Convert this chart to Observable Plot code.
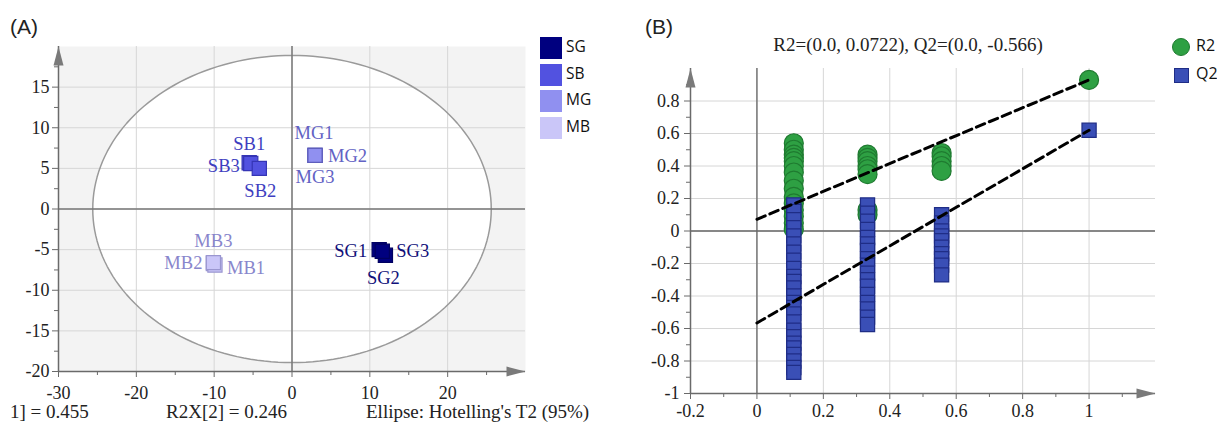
<!DOCTYPE html>
<html><head><meta charset="utf-8">
<script src="https://cdn.jsdelivr.net/npm/d3@7"></script>
<script src="https://cdn.jsdelivr.net/npm/@observablehq/plot@0.6"></script>
<style>
body{margin:0;background:#fff;}
#wrap{position:relative;width:1217px;height:426px;overflow:hidden;font-family:"Liberation Serif","Times New Roman",serif;color:#222;}
.abs{position:absolute;white-space:nowrap;line-height:1;}
svg{overflow:visible;}
</style></head><body><div id="wrap"></div>
<script>
// ---------- Panel A data (PCA scores) ----------
const samples = ["SG1","SG2","SG3","SB1","SB3","SB2","MG1","MG2","MG3","MB2","MB1","MB3"];
const sampleGroup = ["SG","SG","SG","SB","SB","SB","MG","MG","MG","MB","MB","MB"];
const t1 = [11.2, 12.0, 11.6, -5.5, -5.3, -4.2, 2.96, 2.96, 2.96, -10.1, -9.9, -10.1];
const t2 = [-5.0, -5.7, -5.2, 5.7, 5.6, 5.0, 6.6, 6.6, 6.6, -6.7, -6.9, -6.6];
const groupNames = ["SG","SB","MG","MB"];
const groupFill = ["#00007f","#5252e0","#9090f0","#cac6f8"];
const groupStroke = ["#000060","#3535b5","#5e5ebc","#9a96d0"];
const groupLabel = ["#10107a","#3e3ec0","#6262c4","#8886cc"];
const xTicksA = [-30,-20,-10,0,10,20];
const xMinorA = [-25,-15,-5,5,15,25];
const yTicksA = [-20,-15,-10,-5,0,5,10,15];
const yMinorA = [-17.5,-12.5,-7.5,-2.5,2.5,7.5,12.5,17.5];
const xDomA = [-30, 30], yDomA = [-20, 20];
const ellipseRadii = [25.6, 18.9]; // Hotelling T2 (95%)
const footA = ["1] = 0.455", "R2X[2] = 0.246", "Ellipse: Hotelling's T2 (95%)"];

// ---------- Panel B data (permutation test) ----------
const permCorr = [0.111, 0.333, 0.556];
const r2Perm1 = [0.54,0.50,0.47,0.45,0.43,0.40,0.36,0.31,0.26,0.21,0.17,0.13,0.09,0.05,0.01];
const r2Perm2 = [0.47,0.45,0.43,0.40,0.38,0.35,0.13,0.10];
const r2Perm3 = [0.48,0.46,0.43,0.40,0.37];
const q2Perm1 = [0.16,0.12,0.07,0.02,-0.03,-0.08,-0.13,-0.18,-0.23,-0.28,-0.31,-0.35,-0.40,-0.44,-0.47,-0.51,-0.56,-0.61,-0.65,-0.69,-0.72,-0.76,-0.80,-0.84,-0.87];
const q2Perm2 = [0.16,0.11,0.06,0.01,-0.04,-0.08,-0.12,-0.17,-0.21,-0.26,-0.30,-0.34,-0.39,-0.44,-0.48,-0.53,-0.575];
const q2Perm3 = [0.10,0.05,0.0,-0.03,-0.06,-0.10,-0.14,-0.17,-0.21,-0.27];
const origCorr = 1;
const r2Orig = 0.93, q2Orig = 0.62;
const r2Intercept = 0.0722, q2Intercept = -0.566;
const xTicksB = [-0.2,0,0.2,0.4,0.6,0.8,1];
const xMinorB = [-0.1,0.1,0.3,0.5,0.7,0.9,1.1];
const yTicksB = [-1,-0.8,-0.6,-0.4,-0.2,0,0.2,0.4,0.6,0.8];
const yMinorB = [-0.9,-0.7,-0.5,-0.3,-0.1,0.1,0.3,0.5,0.7,0.9];
const xDomB = [-0.2, 1.2], yDomB = [-1, 1];
const titleB = "R2=(0.0, 0.0722), Q2=(0.0, -0.566)";
const legendB = ["R2","Q2"];

// ---------- layout (label offsets in px) ----------
const labelLayout = {
  SG1:{a:"end",dx:-12,dy:1.5}, SG2:{a:"middle",dx:-2,dy:23}, SG3:{a:"start",dx:14,dy:0},
  SB1:{a:"middle",dx:0,dy:-19}, SB2:{a:"middle",dx:1,dy:22.5}, SB3:{a:"end",dx:-11,dy:2.5},
  MG1:{a:"middle",dx:-1,dy:-22}, MG2:{a:"start",dx:13,dy:0.5}, MG3:{a:"middle",dx:0,dy:21.5},
  MB1:{a:"start",dx:12,dy:3}, MB2:{a:"end",dx:-11,dy:0}, MB3:{a:"middle",dx:0,dy:-21.5}
};

const wrap = document.getElementById("wrap");
function addDiv(html, left, top, style){
  const d = document.createElement("div");
  d.className = "abs";
  d.innerHTML = html;
  d.style.left = left + "px"; d.style.top = top + "px";
  Object.assign(d.style, style || {});
  wrap.appendChild(d);
  return d;
}
const fmt = d => String(d);
const arrowUp = {draw(ctx){ ctx.moveTo(0,0); ctx.lineTo(5,19); ctx.lineTo(-5,19); ctx.closePath(); }};
const arrowRight = {draw(ctx){ ctx.moveTo(0,0); ctx.lineTo(-19,-5); ctx.lineTo(-19,5); ctx.closePath(); }};
const axisGray = "#6a6a6a", gridGray = "#d6d6d6";

// ---------- Panel A ----------
const tableA = samples.map((s,i)=>({sample:s, group:sampleGroup[i], t1:t1[i], t2:t2[i]}));
const gi = g => groupNames.indexOf(g);
const ellipsePts = d3.range(0, 361, 2).map(deg => {
  const t = deg*Math.PI/180;
  return {x: ellipseRadii[0]*Math.cos(t), y: ellipseRadii[1]*Math.sin(t)};
});
const plotA = Plot.plot({
  width: 610, height: 426,
  marginLeft: 58, marginRight: 85, marginTop: 46, marginBottom: 55,
  x: {domain: xDomA}, y: {domain: yDomA},
  style: {fontFamily: "Liberation Serif, Times New Roman, serif", fontSize: "18px", background: "transparent", color: "#222"},
  marks: [
    Plot.frame({fill: "#f3f3f3", stroke: "none"}),
    Plot.line(ellipsePts, {x: "x", y: "y", fill: "white", stroke: "none"}),
    Plot.gridX(xTicksA, {stroke: gridGray, strokeOpacity: 1}),
    Plot.gridY(yTicksA, {stroke: gridGray, strokeOpacity: 1}),
    Plot.line(ellipsePts, {x: "x", y: "y", stroke: "#9a9a9a", strokeWidth: 1.5}),
    Plot.ruleX([0], {stroke: "#777", strokeWidth: 1.5}),
    Plot.ruleY([0], {stroke: "#777", strokeWidth: 1.5}),
    Plot.ruleX([xDomA[0]], {stroke: axisGray, strokeWidth: 1.5}),
    Plot.ruleY([yDomA[0]], {stroke: axisGray, strokeWidth: 1.5}),
    Plot.axisX(xTicksA, {anchor: "bottom", tickSize: 6, tickPadding: 9, stroke: axisGray, fill: "#222", tickFormat: fmt, label: null}),
    Plot.axisX(xMinorA, {anchor: "bottom", tickSize: 4, stroke: axisGray, tickFormat: () => "", label: null}),
    Plot.axisY(yTicksA, {anchor: "left", tickSize: 6, tickPadding: 3, stroke: axisGray, fill: "#222", tickFormat: fmt, label: null}),
    Plot.axisY(yMinorA, {anchor: "left", tickSize: 4, stroke: axisGray, tickFormat: () => "", label: null}),
    Plot.dot([{x: xDomA[0], y: yDomA[1]}], {x: "x", y: "y", symbol: arrowUp, fill: "#7a7a7a", stroke: "none"}),
    Plot.dot([{x: xDomA[1], y: yDomA[0]}], {x: "x", y: "y", symbol: arrowRight, fill: "#7a7a7a", stroke: "none"}),
    Plot.dot(tableA, {x: "t1", y: "t2", symbol: "square", r: 8,
      fill: d => groupFill[gi(d.group)], stroke: d => groupStroke[gi(d.group)], strokeWidth: 1.2}),
    ...tableA.map(d => Plot.text([d], {x: "t1", y: "t2", text: "sample",
      textAnchor: labelLayout[d.sample].a, dx: labelLayout[d.sample].dx, dy: labelLayout[d.sample].dy,
      fill: groupLabel[gi(d.group)], fontSize: 18.5}))
  ]
});
plotA.style.position = "absolute"; plotA.style.left = "0px"; plotA.style.top = "0px";
wrap.appendChild(plotA);

addDiv("(A)", 10, 16, {fontFamily: "Liberation Sans, Arial, sans-serif", fontSize: "21px"});
const footStyle = {fontSize: "19px", lineHeight: "15px", height: "15px"};
addDiv(footA[0], 10, 404, footStyle);
addDiv(footA[1], 166, 404, footStyle);
addDiv(footA[2], 366, 404, footStyle);
groupNames.forEach((g, i) => {
  const top = 37 + i*26.7;
  addDiv("", 540, top, {width: "22px", height: "22px", background: groupFill[i]});
  addDiv(g, 566, top + 2, {fontSize: "15.5px", fontFamily: "Open Sans, Noto Sans, sans-serif", color: "#111"});
});

// ---------- Panel B ----------
const r2Table = [], q2Table = [];
[r2Perm1, r2Perm2, r2Perm3].forEach((arr, i) => arr.forEach(v => r2Table.push({x: permCorr[i], y: v})));
[q2Perm1, q2Perm2, q2Perm3].forEach((arr, i) => arr.forEach(v => q2Table.push({x: permCorr[i], y: v})));
r2Table.push({x: origCorr, y: r2Orig});
q2Table.push({x: origCorr, y: q2Orig});
const r2Line = [{x: 0, y: r2Intercept}, {x: origCorr, y: r2Orig}];
const q2Line = [{x: 0, y: q2Intercept}, {x: origCorr, y: q2Orig}];
const greenFill = "#2ea043", greenStroke = "#1f7a30", blueFill = "#3a4fb6", blueStroke = "#1f2d86";

const plotB = Plot.plot({
  width: 607, height: 426,
  marginLeft: 80, marginRight: 62, marginTop: 68, marginBottom: 33,
  x: {domain: xDomB}, y: {domain: yDomB},
  style: {fontFamily: "Liberation Serif, Times New Roman, serif", fontSize: "18px", background: "transparent", color: "#222"},
  marks: [
    Plot.gridX(xTicksB, {stroke: gridGray, strokeOpacity: 1}),
    Plot.gridY(yTicksB, {stroke: gridGray, strokeOpacity: 1}),
    Plot.ruleX([0], {stroke: "#666", strokeWidth: 1.3}),
    Plot.ruleY([0], {stroke: "#666", strokeWidth: 1.3}),
    Plot.ruleX([xDomB[0]], {stroke: axisGray, strokeWidth: 1.5}),
    Plot.ruleY([yDomB[0]], {stroke: axisGray, strokeWidth: 1.5}),
    Plot.axisX(xTicksB, {anchor: "bottom", tickSize: 6, tickPadding: 5, stroke: axisGray, fill: "#222", tickFormat: fmt, label: null}),
    Plot.axisX(xMinorB, {anchor: "bottom", tickSize: 4, stroke: axisGray, tickFormat: () => "", label: null}),
    Plot.axisY(yTicksB, {anchor: "left", tickSize: 6, tickPadding: 5, stroke: axisGray, fill: "#222", tickFormat: fmt, label: null}),
    Plot.axisY(yMinorB, {anchor: "left", tickSize: 4, stroke: axisGray, tickFormat: () => "", label: null}),
    Plot.dot([{x: xDomB[0], y: yDomB[1]}], {x: "x", y: "y", symbol: arrowUp, fill: "#7a7a7a", stroke: "none"}),
    Plot.dot([{x: xDomB[1], y: yDomB[0]}], {x: "x", y: "y", symbol: arrowRight, fill: "#7a7a7a", stroke: "none"}),
    Plot.dot(r2Table, {x: "x", y: "y", r: 9.5, fill: greenFill, stroke: greenStroke, strokeWidth: 1.2}),
    Plot.dot(q2Table, {x: "x", y: "y", symbol: "square", r: 8, fill: blueFill, stroke: blueStroke, strokeWidth: 1.2}),
    Plot.line(r2Line, {x: "x", y: "y", stroke: "#000", strokeWidth: 3, strokeDasharray: "9,5"}),
    Plot.line(q2Line, {x: "x", y: "y", stroke: "#000", strokeWidth: 3, strokeDasharray: "9,5"})
  ]
});
plotB.style.position = "absolute"; plotB.style.left = "610px"; plotB.style.top = "0px";
wrap.appendChild(plotB);

addDiv("(B)", 645, 16, {fontFamily: "Liberation Sans, Arial, sans-serif", fontSize: "21px"});
addDiv(titleB, 908, 35, {fontSize: "19px", transform: "translateX(-50%)"});
// legend B
addDiv("", 1172, 38, {width: "18px", height: "18px", borderRadius: "50%", background: greenFill, border: "1px solid " + greenStroke, boxSizing: "border-box"});
addDiv(legendB[0], 1196, 37, {fontSize: "16px", fontFamily: "Open Sans, Noto Sans, sans-serif", color: "#111"});
addDiv("", 1174, 68, {width: "15px", height: "15px", background: blueFill, border: "1px solid " + blueStroke, boxSizing: "border-box"});
addDiv(legendB[1], 1196, 65, {fontSize: "16px", fontFamily: "Open Sans, Noto Sans, sans-serif", color: "#111"});
</script></body></html>
